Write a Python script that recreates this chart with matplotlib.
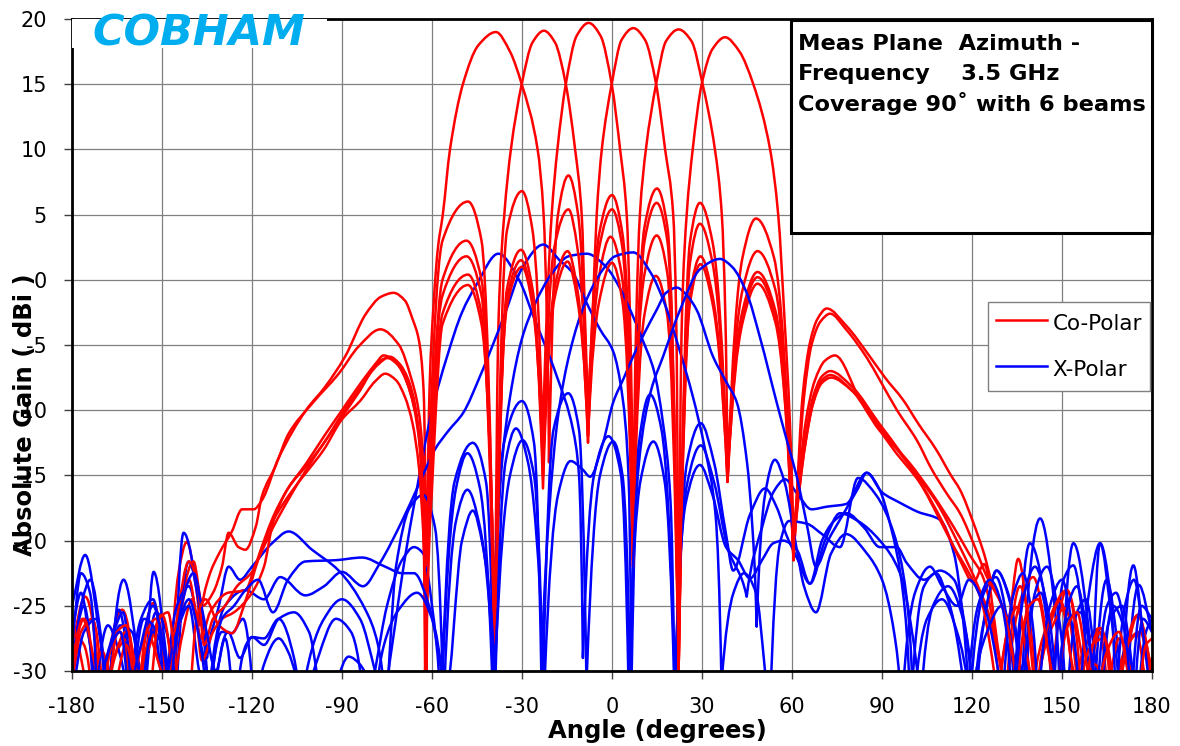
import numpy as np
import matplotlib
matplotlib.use("Agg")
import matplotlib.pyplot as plt
from matplotlib.path import Path
from matplotlib.patches import PathPatch, Rectangle
from matplotlib.lines import Line2D

plt.rcParams["axes.unicode_minus"] = False
plt.rcParams["font.family"] = ["DejaVu Sans"]

# ---------------- data (angle in degrees, gain in dBi) -------------
x_ticks = list(range(-180, 181, 30))
y_ticks = list(range(-30, 21, 5))

co_A = [(-180,-28),(-175.6,-24.3),(-170,-33),(-163.3,-25.3),(-158,-33),(-153,-24.8),(-147.5,-33),(-144.5,-22.5),(-141.7,-20.1),(-139,-23),(-137.5,-26.5),(-134.4,-22.8),(-131,-21),(-126.7,-19.3),(-123.3,-17.6),(-119.4,-17.6),(-116.7,-16.9),(-111,-13.6),(-102,-10),(-95.6,-8.2),(-89,-5.9),(-82,-2.6),(-77,-1.3),(-72.8,-1.0),(-69,-1.6),(-66.5,-3),(-64.4,-4.6),(-62.8,-8.5),(-62.2,-16),(-61.8,-31),
        (-61,-10),(-59.5,-2),(-58,2.5),(-56.4,5),(-54,10),(-49.7,15),(-44.5,18),(-38.7,19.0),(-34,17.5),(-30.1,15),(-24.8,10),(-22.8,5),(-21.7,-3),(-21,-14),
        (-18,5),(-14.5,8.0),(-11.3,5),(-8,-12),(-4.3,0.3),(-0.5,3.3),(3.3,0.3),(7,-20),(10.8,-2.7),(14.6,0.3),(18.4,-2.7),(22.2,-30),
        (26,-1.8),(29.5,1.2),(33.5,-1.8),(38.5,-15.5),(43.5,-3.3),(48.5,-0.3),(54.5,-3.3),(60.5,-21.5),
        (62.5,-16),(64.5,-12.5),(67,-9.5),(70,-7.9),(73,-7.5),(80,-8.5),(90,-11.5),(100,-14.5),(108,-17),(116,-20.5),(122,-23.5),(126,-26),(129,-31),(134.9,-25.1),(140,-32),(145,-26.5),(149.3,-24.6),(154,-32),(158,-28),(162.7,-26.7),(167,-33),(171,-28.5),(174.9,-27.1),(178.5,-31),(180,-29)]

co_B = [(-180,-31),(-177,-27),(-173.3,-26),(-169,-34),(-165,-28.5),(-162,-27.6),(-158.5,-34),(-155,-28),(-153.3,-26.8),(-150,-30.5),(-147,-34),(-143,-24),(-139.5,-21.6),(-136.5,-25),(-133,-24),(-130,-22),(-127.8,-19.4),(-124.5,-20.5),(-122.2,-20.7),(-118.7,-18.9),(-116.7,-16.6),(-112.2,-14.3),(-107.8,-11.8),(-100,-9.5),(-91.1,-7.2),(-84.4,-5.1),(-77.2,-3.8),(-71,-5),(-67,-7.5),(-64.5,-10),(-63,-14),(-62.3,-24),
        (-56.5,3),(-48,6.0),(-43.5,3),(-39,-30),
        (-37.8,-3),(-35.9,5),(-33.7,10),(-30.1,15),(-26.5,18.2),(-22.7,19.1),(-19,18.2),(-15.4,15),(-12.3,10),(-10.1,5),(-9,-3),(-8,-11.5),
        (-4.3,3.5),(0,6.5),(3.5,3.5),(7,-15),(10.8,0.4),(14.9,3.4),(18.5,0.4),(22.2,-30),
        (26,-1.2),(29.5,1.8),(33.5,-1.2),(38.5,-15.5),(43.5,-2.8),(48.5,0.2),(54.5,-2.8),(60.5,-21.5),
        (62.5,-16),(64.5,-12.5),(67,-9.5),(70,-7.7),(72.7,-7.3),(80,-8.5),(89,-11.5),(99,-14),(107,-16.5),(114,-19),(119,-21),(124,-23),(127.5,-27),(131,-33),(137,-24),(140.4,-22.8),(144,-26),(146.5,-31),(151.6,-23.8),(156,-28),(158.5,-33),(162.7,-27),(166,-32),(170,-29),(175.3,-25.7),(179,-29),(180,-31)]

co_C = [(-180,-27),(-176,-28),(-172.5,-34),(-168,-29),(-164,-27),(-160,-33),(-156,-27.5),(-152,-26),(-148,-33),(-145,-26),(-141,-21.6),(-138,-23.5),(-136,-28),(-133,-26),(-129,-25),(-125,-23.5),(-120,-22.4),(-116,-20),(-113,-18.2),(-108,-16),(-102,-14.1),(-96,-12),(-90,-10),(-84,-8),(-79,-6.5),(-76.1,-5.8),(-72.5,-6.2),(-69.5,-7.2),(-67,-8.8),(-64.5,-11.5),(-63,-17),(-62.3,-30),
        (-56.5,0),(-48.5,3.0),(-43.5,0),(-39,-28),(-35,3.8),(-30,6.8),(-26.5,3.8),(-23,-13),
        (-21.8,-3),(-20.1,5),(-18.2,10),(-15.4,15),(-11.8,18.7),(-7.8,19.7),(-3.8,18.7),(-0.1,15),(2.7,10),(4.9,5),(6,-3),(7,-18),
        (10.8,4),(15,7.0),(18.5,4),(22.2,-30),(26,1.3),(29.3,4.3),(33.5,1.3),(38.5,-15),(43.5,-2.4),(48.5,0.6),(54.5,-2.4),(60.5,-21),
        (62.5,-15.5),(64.5,-12),(67,-9),(70,-7.4),(72.7,-7.0),(80,-8.2),(89,-11),(97,-13.5),(104,-16),(110,-18.5),(116,-21.5),(120.5,-23.2),(124,-21.8),(128.5,-28),(131,-33),(136,-23.5),(139,-26),(141.5,-32),(146,-27),(151,-25.2),(155.5,-32),(160,-28),(164,-27.5),(168,-33),(172,-28),(176,-27),(180,-31)]

co_D = [(-180,-30),(-176.5,-26),(-173,-29),(-170,-34),(-166,-29),(-162,-27),(-158,-32),(-154,-28),(-150,-25.7),(-146,-32),(-143,-27),(-140,-24.5),(-137,-27.5),(-134,-25.5),(-128,-24),(-122.2,-23.8),(-119,-22),(-113,-19),(-107,-16.5),(-102,-14.6),(-96,-12.5),(-90,-10.5),(-84,-8.5),(-78,-6.3),(-74.9,-6.0),(-71.5,-6.5),(-68.5,-7.8),(-66,-9.8),(-64,-13),(-62.8,-18),(-62.2,-23),
        (-56.5,-1.2),(-48.5,1.8),(-43.5,-1.2),(-39,-30),(-35,-0.7),(-30.3,2.3),(-26.5,-0.7),(-23,-15),(-19.3,2.4),(-14.5,5.4),(-11.5,2.4),(-8,-11),
        (-6.5,-3),(-5.1,5),(-3.4,10),(-0.1,15),(3.2,18.4),(7.1,19.3),(11,18.4),(14.7,15),(17.7,10),(20.4,5),(21.4,-3),(22.2,-30),
        (26,2.9),(29.3,5.9),(33.5,2.9),(38.5,-15),(43.5,-0.8),(48.5,2.2),(54.5,-0.8),(60.5,-21.5),
        (62.5,-15),(64.5,-11),(67.5,-7.8),(71,-6.2),(74.3,-5.8),(82.7,-9.2),(93.8,-13),(102.7,-15.6),(109.3,-18.4),(114,-20.5),(119,-22.5),(123,-24.5),(126,-28),(128.5,-33),(133,-26),(135,-25.1),(138,-28.5),(141,-33),(145.5,-27),(149.3,-24.6),(153,-29),(156,-34),(161,-29.5),(165,-31),(169,-27.5),(173,-30),(176,-33),(180,-30)]

co_E = [(-180,-26),(-177,-29),(-174,-34),(-170,-28.5),(-166,-31),(-162,-28),(-158,-31),(-155,-27),(-151,-29.5),(-147,-33),(-144,-26),(-141,-23),(-138.5,-26),(-136.7,-29.2),(-133,-27),(-130,-26),(-126,-25.5),(-120,-24),(-116,-22),(-113,-18.6),(-108,-16),(-102,-14.3),(-96,-12.5),(-90,-10.3),(-84,-8.3),(-78,-6.5),(-74,-5.9),(-71,-6.4),(-68,-7.6),(-65.5,-9.8),(-63.8,-13.5),(-62.8,-19),(-62.2,-30),
        (-56.5,-2.6),(-48,0.4),(-43.5,-2.6),(-39,-30),(-35,-1.5),(-30.3,1.5),(-26.5,-1.5),(-23,-16),(-19.3,-0.8),(-14.8,2.2),(-11.5,-0.8),(-8,-12.5),(-4.3,2.4),(0,5.4),(3.5,2.4),(7,-22),
        (8,-4),(9.3,5),(11.3,10),(14.7,15),(18,18.3),(22.2,19.2),(26.5,18.3),(30.2,15),(34.3,10),(36.6,5),(37.8,-3),(38.5,-15.5),
        (43.5,1.7),(48,4.7),(54,1.7),(60.5,-21),
        (61.8,-16),(64,-9),(66.5,-5),(69.5,-3.2),(72.7,-2.6),(78,-3.8),(85,-6),(89.3,-7.7),(95,-10),(101.6,-12.3),(106.5,-14.5),(111.6,-16.4),(116,-17.9),(121,-20.5),(125,-22.8),(129.3,-24.6),(132,-26),(135.4,-21.4),(139,-27),(141,-33),(146,-26),(151.6,-23.8),(157,-33),(162.7,-26.7),(168,-34),(172,-28),(175.3,-25.7),(180,-30)]

co_F = [(-180,-29),(-176,-26),(-172,-30),(-169,-33),(-165,-27),(-162,-26.5),(-158.5,-30),(-155,-33),(-151,-26),(-148,-25.5),(-145,-30),(-141.5,-33),(-138.5,-26),(-135.5,-24.5),(-131,-26.5),(-126.7,-27.1),(-122,-24.5),(-118,-21.5),(-113,-18.5),(-107,-16.3),(-102,-14.8),(-96,-13),(-90,-10.7),(-84,-9.3),(-79,-7.8),(-75.6,-7.2),(-72,-7.7),(-69,-9),(-66.5,-11),(-64.3,-14.5),(-63,-19),(-62.3,-22),
        (-56.5,-3.4),(-48,-0.4),(-43.5,-3.4),(-39,-26),(-35,-2),(-30,1.0),(-26.5,-2),(-23,-14.5),(-19.3,-1.6),(-14.8,1.4),(-11.5,-1.6),(-8,-12),(-4.3,-1.7),(0,1.3),(3.5,-1.7),(7,-21.5),(10.8,2.9),(14.9,5.9),(18.5,2.9),(22.2,-30),
        (23.3,-3),(24.9,5),(26.9,10),(29.9,15),(33.5,17.7),(37.7,18.6),(42.5,17.5),(47.1,15),(52.7,10),(55.4,5),(57.5,-3),(59.3,-11),(60.5,-21),
        (61.5,-17),(63.5,-9),(66,-4.8),(68.5,-3.0),(71.6,-2.2),(78,-3.5),(86,-5.9),(91,-7.5),(97,-9.2),(102,-11),(108,-13),(113,-15),(116,-16.1),(120.4,-18.6),(124,-21),(127,-23.5),(130,-25),(133,-28),(135,-32),(139,-25),(142,-24.5),(145,-28),(148,-33),(152,-26.5),(155,-25.5),(158.5,-30),(161,-34),(165,-28.5),(169,-27),(172.5,-31),(175,-35),(178,-28),(180,-27.5)]

x_A = [(-180,-25),(-175.6,-21.1),(-171,-27),(-168,-33),(-164.4,-25.3),(-160,-31),(-157,-34),(-152.8,-22.4),(-148,-30),(-146,-34),(-142.8,-19.4),(-138,-24),(-135,-29),(-131,-25),(-127.8,-22),(-124,-23),(-120,-22),(-113.3,-20.2),(-107.8,-19.3),(-100,-20.7),(-91.1,-22.3),(-82.2,-25.3),(-78,-28),(-75.5,-33),
       (-72,-26),(-69,-21.3),(-65.7,-16.9),(-60,-10),(-55,-5.9),(-50,-2.5),(-45,-0.3),(-37.9,2.0),(-31,0),(-26.2,-2.8),(-18.4,-7.4),(-13,-11.5),(-11,-15),(-9.7,-29),
       (-6,-15),(-1.2,-12.0),(3,-15),(5.5,-31),(9.5,-15.4),(13.8,-12.4),(17.5,-15.4),(21,-33),
       (25,-14),(29.6,-11.0),(34,-14),(38,-19.5),(40.4,-22.3),(46,-18),(51,-16),(55,-17.5),(58,-19.5),(62,-21.5),(66,-23.3),(71,-20),(76,-17.9),(82,-18.5),(89.3,-20),(96,-22.5),(100,-27),(102.7,-33),(107,-25),(112,-23.5),(117,-26),(120.4,-33),(125,-25),(128.2,-22.3),(133,-25),(136.5,-31),(142.7,-18.3),(147.5,-25),(149.5,-33),(153.8,-20.2),(158.5,-26),(160.5,-33),(164.9,-23),(169,-29),(171,-34),(175.6,-23.4),(180,-27)]

x_B = [(-180,-30),(-176.5,-24.5),(-173.9,-23),(-170,-28),(-168,-33),(-162.8,-23),(-158,-29),(-156,-33),(-152,-25.5),(-148.5,-27),(-145.5,-33),(-141.1,-21.6),(-137,-26),(-134.5,-32),(-129,-25),(-122.2,-23.8),(-116,-24.5),(-110.6,-22.8),(-102.2,-24.2),(-96,-23.5),(-90,-22.4),(-83,-23.5),(-77.3,-21.7),(-70,-18.5),(-64,-15.5),(-59,-13),(-54.6,-11.6),(-49.6,-10.2),(-44,-7.4),(-36,-2.8),(-29.7,1.0),(-22.9,2.7),(-17.5,1.5),(-13,0.5),(-8.4,-1.8),(-4,-3.8),(0.4,-5.5),(3.5,-9),(5.5,-15),(6.5,-31),
       (9,-12.5),(12.7,-8.8),(16.5,-11.5),(21,-31),
       (25,-15.7),(29.6,-12.7),(34,-15.5),(38.5,-20.5),(44.9,-24.3),(50,-19),(54,-16.2),(57.7,-15.3),(62,-16.5),(66.5,-17.6),(71.6,-17.4),(78,-17.2),(84.9,-14.8),(90,-16.3),(96,-17.1),(102,-17.8),(109.3,-18.4),(114,-21),(117,-26),(119,-33),(124,-24),(128,-22.8),(132,-26.5),(134.5,-33),(139.3,-20.2),(144,-24),(147,-33),(150.5,-23),(153.8,-21.9),(157.5,-27),(160,-33),(162.7,-20.2),(166.5,-26),(169.5,-33),(173.8,-21.9),(177.5,-28),(180,-31)]

x_C = [(-180,-29),(-176,-25),(-172.5,-33),(-168,-26.5),(-165,-28),(-161,-33),(-157,-26),(-153,-24.5),(-149,-33),(-145,-25),(-141,-23.5),(-137,-28),(-133,-33),(-128,-27),(-124,-29),(-120,-27.4),(-116,-27.5),(-111.1,-26),(-106,-29),(-104,-33),(-96,-26),(-90,-24.5),(-84,-26),(-79,-30),(-76,-33),(-72,-22),(-67.5,-17.5),(-63,-16.5),(-59,-19),(-56.5,-30),(-52.5,-15.5),(-46.4,-12.5),(-42,-15.5),(-39.5,-30),
       (-37,-15),(-34,-9),(-30,-4.5),(-26,-2),(-20,0.5),(-14.5,1.8),(-8.4,2.0),(-2,1.0),(3,-0.8),(7,-2.8),(10,-4.5),(14,-7),(17,-11),(19.5,-17),(20.8,-32),
       (24.5,-17.2),(29.3,-14.2),(33.5,-16.5),(38,-20.5),(42,-21.5),(46,-22.9),(50,-21.5),(53.8,-20.2),(57,-20),(61.6,-20.7),(66,-23.3),(70,-20),(74,-18.5),(78.2,-17.9),(84,-19),(89.3,-20.5),(94.9,-20.5),(98.2,-21.7),(104,-23),(109.3,-22.3),(114,-23),(118,-27),(121,-34),(124.5,-25.5),(128.2,-22.3),(132,-24),(135.5,-29),(137.5,-33),(141,-24),(145,-22),(149,-26),(151.5,-33),(155,-25.5),(158,-24.5),(161,-29),(163,-33),(167,-25),(171,-27),(174,-33),(177,-26),(180,-27)]

x_D = [(-180,-27),(-177,-24),(-174,-28),(-171,-33),(-166,-27),(-163,-25.5),(-160,-33),(-156,-26),(-153,-26.5),(-149.5,-33),(-145,-27),(-141,-25),(-138,-29.5),(-135,-34),(-130,-27),(-126.7,-27.1),(-123,-26),(-119,-34),(-116,-29.5),(-111.1,-27.5),(-108,-28.5),(-103,-34),(-98,-29),(-92,-26),(-87,-27),(-82,-34),(-79,-30),(-75,-25),(-70,-21.5),(-66,-20.5),(-62.9,-21),(-60,-25),(-57,-33),
       (-52,-16),(-48.2,-13.3),(-44,-16),(-40,-30),(-36,-12.5),(-30,-9.3),(-26,-12.5),(-23.5,-31),
       (-21,-18),(-18,-10.5),(-14,-5.5),(-9,-1.8),(-3,0.8),(1,1.8),(7.1,2.1),(13,0.5),(17.5,-1.8),(22,-5),(27,-9),(31,-13),(34.5,-18),(36.5,-31),
       (40.5,-24),(44,-22.5),(48,-24),(51,-30),(52.5,-34),(56,-20.2),(59,-18.5),(64.9,-18.7),(70,-19.5),(76,-20.5),(82,-15.2),(88,-16.5),(94,-19.5),(98,-24),(100.5,-33),(105,-26),(110,-24.5),(115,-27),(119.5,-33),(125,-27),(130,-25),(134,-29),(136.5,-34),(140,-25),(143,-24),(146,-28),(148,-33),(152,-26),(156,-25.5),(160,-29),(162,-34),(166,-26),(170,-25),(173,-29),(175,-34),(178,-27),(180,-26)]

x_E = [(-180,-32),(-176,-27),(-172,-26),(-168.5,-33),(-164,-26.5),(-160,-27),(-157,-33),(-153,-27),(-150,-28),(-147,-33),(-143,-24.5),(-139.5,-22.5),(-136,-26),(-132,-30),(-129,-27.5),(-126,-34),(-122,-28),(-120,-27.4),(-116,-28),(-111.1,-26),(-106,-25.5),(-101,-27),(-95,-34),(-92,-31),(-87.8,-28.9),(-84,-29.5),(-79,-33),(-76,-28),(-71.1,-25.3),(-65,-24),(-60,-26),(-56,-32),
       (-52,-18.5),(-48.2,-16.1),(-44,-19),(-39,-32),(-35.5,-14),(-32,-11.4),(-28,-14),(-22.5,-31),(-18,-16.5),(-13.8,-13.9),(-10,-14.5),(-7.3,-15.1),(-3,-12.5),
       (0.4,-9.4),(4,-7.5),(7,-5.9),(11,-4),(14.9,-2.3),(18,-1.0),(21.6,-0.6),(25,-1.2),(28.2,-2.3),(33.7,-5.9),(38,-7.8),(41.6,-9.4),(45,-14),(46.8,-19),(48.2,-26.6),
       (51,-16.5),(54.3,-13.8),(57.5,-15.5),(61.6,-20.7),(64,-23.5),(68,-25.5),(73,-21),(78,-19.5),(85,-21),(90,-23),(94,-27),(96.5,-33),(101,-24),(106,-22),(110,-23.5),(115,-25),(119,-23),(124,-25),(128,-29),(130,-33),(134,-24),(137,-22.5),(140,-26),(142,-33),(146,-25),(150,-23),(153,-26),(156,-33),(159,-24),(162.7,-20.2),(166,-24),(168,-33),(171,-25),(174,-23),(177.5,-28),(180,-33)]

x_F = [(-180,-28),(-177,-22.5),(-174,-24),(-171.5,-33),(-167,-28),(-164,-27),(-161,-33),(-157,-28),(-153,-25),(-150,-27.5),(-147.5,-33),(-144,-26),(-141,-24.5),(-138,-27),(-134.5,-34),(-130,-26),(-126,-25),(-122.2,-23.8),(-118,-23),(-113,-25.5),(-108,-23),(-102.2,-21.6),(-92,-21.5),(-83.3,-21.3),(-75.6,-22),(-70,-22.5),(-66,-22.5),(-61,-25),(-57.5,-29),(-55.5,-32),
       (-50,-20),(-46.4,-17.7),(-43,-20.5),(-39,-30),(-34,-15),(-29.8,-12.3),(-26,-15),(-23,-31),(-19.5,-11.5),(-14.6,-8.7),(-11,-11.5),(-8.5,-31),(-4,-15),(0.4,-12.4),(3.5,-15),(6,-30),
       (9,-14),(13,-8.5),(17,-5.9),(22.7,-2.3),(29.3,0.8),(36,1.6),(40,1.0),(44.9,-1.0),(49.3,-4.4),(55,-9.5),(58.5,-12.5),(61.6,-15.1),(64.9,-18.7),(68,-22),
       (72,-20),(77,-18),(82,-16),(84.9,-14.8),(89,-16),(93,-19),(97,-24),(99.5,-33),(104,-23.5),(108,-22.5),(112,-24.5),(116,-29),(118,-34),(122,-25),(126,-23),(130,-25),(133.5,-33),(137.5,-24),(141,-22),(145,-25),(148.5,-33),(152,-25),(155,-23.5),(158,-26.5),(161.5,-33),(165,-25),(168,-24),(171.5,-28),(173,-33),(176.5,-25),(180,-26)]

co_polar = [co_A, co_B, co_C, co_D, co_E, co_F]
x_polar = [x_A, x_B, x_C, x_D, x_E, x_F]
legend_labels = ["Co-Polar", "X-Polar"]
info_lines = ["Meas Plane  Azimuth -", "Frequency    3.5 GHz", "Coverage 90\u02da with 6 beams"]


# ---------------- smoothed line (like a spreadsheet "smoothed line") ----------------
def smooth_path(pts):
    pts = sorted(pts)
    x = np.array([p[0] for p in pts], float)
    y = np.array([p[1] for p in pts], float)
    n = len(x)
    h = np.diff(x)
    d = np.diff(y) / h
    m_in = np.zeros(n)
    m_out = np.zeros(n)
    for i in range(n):
        if i == 0:
            m_in[i] = m_out[i] = d[0]
            continue
        if i == n - 1:
            m_in[i] = m_out[i] = d[-1]
            continue
        dl, dr = d[i - 1], d[i]
        if y[i] < y[i - 1] - 3 and y[i] < y[i + 1] - 3:
            m_in[i] = 1.8 * dl
            m_out[i] = 1.8 * dr
        elif dl * dr <= 0:
            m_in[i] = m_out[i] = 0.0
        else:
            w1 = 2 * h[i] + h[i - 1]
            w2 = h[i] + 2 * h[i - 1]
            m_in[i] = m_out[i] = (w1 + w2) / (w1 / dl + w2 / dr)
    verts = [(x[0], y[0])]
    codes = [Path.MOVETO]
    for i in range(n - 1):
        hh = h[i]
        verts += [(x[i] + hh / 3, y[i] + m_out[i] * hh / 3),
                  (x[i + 1] - hh / 3, y[i + 1] - m_in[i + 1] * hh / 3),
                  (x[i + 1], y[i + 1])]
        codes += [Path.CURVE4] * 3
    return Path(verts, codes)


W, H = 1180, 746
fig = plt.figure(figsize=(W / 100, H / 100), dpi=100)
fig.patch.set_facecolor("white")
ax = fig.add_axes([72 / W, 75 / H, 1080 / W, 652 / H])

RED = "#FF0000"
BLUE = "#0000FF"
LW = 1.8
for co, xp in zip(co_polar, x_polar):
    ax.add_patch(PathPatch(smooth_path(co), fill=False, edgecolor=RED, lw=LW,
                           joinstyle="round", capstyle="round"))
    ax.add_patch(PathPatch(smooth_path(xp), fill=False, edgecolor=BLUE, lw=LW,
                           joinstyle="round", capstyle="round"))

ax.set_xlim(-180, 180)
ax.set_ylim(-30, 20)
ax.set_xticks(x_ticks)
ax.set_yticks(y_ticks)
ax.grid(True, color="#808080", lw=0.9)
ax.set_axisbelow(True)
for s in ax.spines.values():
    s.set_linewidth(2.0)
    s.set_color("black")
ax.tick_params(direction="out", length=6, width=1, color="#404040", labelsize=15)
ax.tick_params(axis="x", pad=13)
ax.tick_params(axis="y", pad=12)

# legend
handles = [Line2D([], [], color=RED, lw=LW), Line2D([], [], color=BLUE, lw=LW)]
leg = ax.legend(handles, legend_labels, loc="upper left",
                bbox_to_anchor=(988 / W, 1 - 302 / H), bbox_transform=fig.transFigure,
                frameon=True, fancybox=False, framealpha=1, edgecolor="#808080",
                fontsize=15.5, handlelength=2.4, handleheight=1.6, handletextpad=0.25,
                labelspacing=0.85, borderpad=0.35, borderaxespad=0)
leg.get_frame().set_linewidth(1.0)

# axis labels
fig.text(657 / W, 1 - 731 / H, "Angle (degrees)", ha="center", va="center",
         fontsize=17.5, fontweight="bold")
fig.text(25 / W, 1 - 415 / H, "Absolute Gain ( dBi )", rotation=90, ha="center",
         va="center", fontsize=17.5, fontweight="bold", zorder=10)

# info box
fig.add_artist(Rectangle((791 / W, 1 - 233 / H), (1152 - 791) / W, (233 - 20) / H,
                         transform=fig.transFigure, facecolor="white",
                         edgecolor="black", lw=2.2, zorder=5))
for i, line in enumerate(info_lines):
    fig.text(798 / W, 1 - (49.5 + 30.7 * i) / H, line, ha="left", va="baseline",
             fontsize=16.2, fontweight="bold", zorder=6)

# logo
fig.add_artist(Rectangle((72 / W, 1 - 48 / H), 255 / W, 29 / H, transform=fig.transFigure,
                         facecolor="white", edgecolor="none", zorder=5))
fig.text(199 / W, 1 - 34 / H, "COBHAM", ha="center", va="center", color="#00AEEF",
         fontsize=31, fontweight="heavy", style="italic", zorder=6)

fig.savefig("out.png", dpi=100, facecolor="white")
